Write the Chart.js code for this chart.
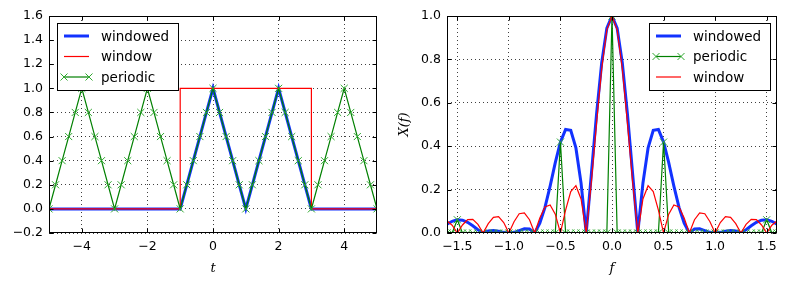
<!DOCTYPE html>
<html>
<head>
<meta charset="utf-8">
<script src="https://cdn.jsdelivr.net/npm/chart.js@4.4.0/dist/chart.umd.min.js"></script>
<style>
    html, body { margin: 0; padding: 0; background: #fff; }
    #khung { position: relative; width: 786px; height: 286px; }
    .o { position: absolute; top: 0; width: 393px; height: 286px; }
</style>
</head>
<body>
<div id="khung">
    <div class="o" style="left:0"><canvas id="bieuDoThoiGian" width="393" height="286"></canvas></div>
    <div class="o" style="left:393px"><canvas id="bieuDoTanSo" width="393" height="286"></canvas></div>
</div>
<script>
// ===== du lieu mien thoi gian =====
const thoiGian = [-5, -4.8, -4.6, -4.4, -4.2, -4, -3.8, -3.6, -3.4, -3.2, -3, -2.8, -2.6, -2.4, -2.2, -2, -1.8, -1.6, -1.4, -1.2,
    -1, -0.8, -0.6, -0.4, -0.2, 0, 0.2, 0.4, 0.6, 0.8, 1, 1.2, 1.4, 1.6, 1.8, 2, 2.2, 2.4, 2.6, 2.8,
    3, 3.2, 3.4, 3.6, 3.8, 4, 4.2, 4.4, 4.6, 4.8, 5];
const tuanHoan = [0, 0.2, 0.4, 0.6, 0.8, 1, 0.8, 0.6, 0.4, 0.2, 0, 0.2, 0.4, 0.6, 0.8, 1, 0.8, 0.6, 0.4, 0.2,
    0, 0.2, 0.4, 0.6, 0.8, 1, 0.8, 0.6, 0.4, 0.2, 0, 0.2, 0.4, 0.6, 0.8, 1, 0.8, 0.6, 0.4, 0.2,
    0, 0.2, 0.4, 0.6, 0.8, 1, 0.8, 0.6, 0.4, 0.2, 0];
const daCuaSo = [0, 0, 0, 0, 0, 0, 0, 0, 0, 0, 0, 0, 0, 0, 0, 0, 0, 0, 0, 0,
    0, 0.2, 0.4, 0.6, 0.8, 1, 0.8, 0.6, 0.4, 0.2, 0, 0.2, 0.4, 0.6, 0.8, 1, 0.8, 0.6, 0.4, 0.2,
    0, 0, 0, 0, 0, 0, 0, 0, 0, 0, 0];
const cuaSoT = [-5, -1, -1, 3, 3, 5];
const cuaSo = [0, 0, 1, 1, 0, 0];
const mocX1 = [-4, -2, 0, 2, 4];
const mocY1 = [-0.2, 0, 0.2, 0.4, 0.6, 0.8, 1.0, 1.2, 1.4, 1.6];

// ===== du lieu mien tan so =====
const tanSo = [-1.65, -1.6, -1.55, -1.5, -1.45, -1.4, -1.35, -1.3, -1.25, -1.2, -1.15, -1.1, -1.05, -1,
    -0.95, -0.9, -0.85, -0.8, -0.75, -0.7, -0.65, -0.6, -0.55, -0.5, -0.45, -0.4, -0.35, -0.3, -0.25, -0.2, -0.15, -0.1, -0.05,
    0, 0.05, 0.1, 0.15, 0.2, 0.25, 0.3, 0.35, 0.4, 0.45, 0.5, 0.55, 0.6, 0.65, 0.7, 0.75, 0.8, 0.85, 0.9, 0.95,
    1, 1.05, 1.1, 1.15, 1.2, 1.25, 1.3, 1.35, 1.4, 1.45, 1.5, 1.55, 1.6, 1.65];
const phoDaCuaSo = [0.025, 0.041, 0.054, 0.061, 0.059, 0.049, 0.033, 0.015, 0, 0.009, 0.011, 0.008, 0.003, 0,
    0.003, 0.011, 0.019, 0.018, 0, 0.045, 0.118, 0.216, 0.324, 0.419, 0.477, 0.473, 0.392, 0.230, 0, 0.272, 0.547, 0.784, 0.944,
    1, 0.944, 0.784, 0.547, 0.272, 0, 0.230, 0.392, 0.473, 0.477, 0.419, 0.324, 0.216, 0.118, 0.045, 0, 0.018, 0.019, 0.011, 0.003,
    0, 0.003, 0.008, 0.011, 0.009, 0, 0.015, 0.033, 0.049, 0.059, 0.061, 0.054, 0.041, 0.025];
const phoTuanHoan = [0, 0, 0, 0.061, 0, 0, 0, 0, 0, 0, 0, 0, 0, 0,
    0, 0, 0, 0, 0, 0, 0, 0, 0, 0.419, 0, 0, 0, 0, 0, 0, 0, 0, 0,
    1, 0, 0, 0, 0, 0, 0, 0, 0, 0, 0.419, 0, 0, 0, 0, 0, 0, 0, 0, 0,
    0, 0, 0, 0, 0, 0, 0, 0, 0, 0, 0.061, 0, 0, 0];
const phoCuaSo = [0.055, 0.056, 0.036, 0, 0.037, 0.062, 0.063, 0.040, 0, 0.043, 0.072, 0.075, 0.048, 0,
    0.052, 0.089, 0.093, 0.061, 0, 0.069, 0.120, 0.129, 0.087, 0, 0.105, 0.191, 0.218, 0.157, 0, 0.235, 0.505, 0.757, 0.936,
    1, 0.936, 0.757, 0.505, 0.235, 0, 0.157, 0.218, 0.191, 0.105, 0, 0.087, 0.129, 0.120, 0.069, 0, 0.061, 0.093, 0.089, 0.052,
    0, 0.048, 0.075, 0.072, 0.043, 0, 0.040, 0.063, 0.062, 0.037, 0, 0.036, 0.056, 0.055];
const mocX2 = [-1.5, -1.0, -0.5, 0, 0.5, 1.0, 1.5];
const mocY2 = [0, 0.2, 0.4, 0.6, 0.8, 1.0];

const XANH = "#1232ff";
const DO = "#ff0000";
const LUC = "#008000";
const DAU_X = "#2fa82f";

Chart.defaults.font.family = "'DejaVu Sans', sans-serif";
Chart.defaults.color = "#000";

function ghep(xs, ys) {
    return xs.map((x, i) => ({ x: x, y: ys[i] }));
}
function dauTru(s) {
    return s.replace("-", "\u2212");
}

// khung truc + vach chia huong vao trong
const khungTruc = {
    id: "khungTruc",
    afterDatasetsDraw(chart) {
        const { ctx, chartArea: a, scales } = chart;
        const L = Math.round(a.left) + 0.5, R = Math.round(a.right) - 0.5;
        const T = Math.round(a.top) + 0.5, B = Math.round(a.bottom) - 0.5;
        ctx.save();
        ctx.strokeStyle = "#000";
        ctx.lineWidth = 1;
        ctx.beginPath();
        scales.x.ticks.forEach((t) => {
            const p = Math.round(scales.x.getPixelForValue(t.value)) + 0.5;
            ctx.moveTo(p, B); ctx.lineTo(p, B - 4);
            ctx.moveTo(p, T); ctx.lineTo(p, T + 4);
        });
        scales.y.ticks.forEach((t) => {
            const p = Math.round(scales.y.getPixelForValue(t.value)) + 0.5;
            ctx.moveTo(L, p); ctx.lineTo(L + 4, p);
            ctx.moveTo(R, p); ctx.lineTo(R - 4, p);
        });
        ctx.stroke();
        ctx.strokeRect(L, T, R - L, B - T);
        ctx.restore();
    },
};

// chu giai ve ben trong vung ve
const chuGiai = {
    id: "chuGiai",
    afterDraw(chart, args, opts) {
        const { ctx, chartArea: a } = chart;
        const ds = chart.data.datasets;
        ctx.save();
        ctx.font = "13.5px 'DejaVu Sans'";
        const tw = Math.max(...ds.map((d) => ctx.measureText(d.label).width));
        const w = Math.round(7 + 25 + 12 + tw + 9);
        const h = 67;
        const left = opts.side === "left" ? Math.round(a.left) + 8 : Math.round(a.right) - 7 - w;
        const top = Math.round(a.top) + 7;
        ctx.fillStyle = "#fff";
        ctx.fillRect(left, top, w, h);
        ctx.strokeStyle = "#000";
        ctx.lineWidth = 1;
        ctx.strokeRect(left + 0.5, top + 0.5, w, h);
        ds.forEach((d, i) => {
            const cy = top + 13 + i * 20.5;
            const x0 = left + 7, x1 = x0 + 25;
            ctx.strokeStyle = d.borderColor;
            ctx.lineWidth = d.borderWidth;
            ctx.beginPath();
            ctx.moveTo(x0, cy); ctx.lineTo(x1, cy);
            ctx.stroke();
            if (d.pointRadius > 0) {
                const r = 3.5;
                ctx.strokeStyle = d.pointBorderColor;
                ctx.lineWidth = d.pointBorderWidth;
                ctx.beginPath();
                [x0, x1].forEach((px) => {
                    ctx.moveTo(px - r, cy - r); ctx.lineTo(px + r, cy + r);
                    ctx.moveTo(px - r, cy + r); ctx.lineTo(px + r, cy - r);
                });
                ctx.stroke();
            }
            ctx.fillStyle = "#000";
            ctx.textBaseline = "middle";
            ctx.fillText(d.label, x1 + 12, cy + 1);
        });
        ctx.restore();
    },
};

function trucX(min, max, moc, fmt, nhan, caoTruc) {
    return {
        type: "linear", min: min, max: max,
        afterBuildTicks: (s) => { s.ticks = moc.map((v) => ({ value: v })); },
        afterFit: (s) => { s.height = caoTruc; },
        ticks: { font: { size: 12.5 }, padding: 6, maxRotation: 0, autoSkip: false, callback: fmt },
        grid: { color: "rgba(0,0,0,0.75)", lineWidth: 1, drawTicks: false },
        border: { display: false, dash: [1, 3] },
        title: {
            display: true, text: nhan,
            font: { family: "'DejaVu Serif'", style: "italic", size: 13 },
            padding: { top: 0, bottom: 10 },
        },
    };
}
function trucY(min, max, moc, rongTruc, nhan) {
    return {
        type: "linear", min: min, max: max,
        afterBuildTicks: (s) => { s.ticks = moc.map((v) => ({ value: v })); },
        afterFit: (s) => { s.width = rongTruc; },
        ticks: { font: { size: 12.5 }, padding: 6, autoSkip: false, callback: (v) => dauTru(v.toFixed(1)) },
        grid: { color: "rgba(0,0,0,0.75)", lineWidth: 1, drawTicks: false },
        border: { display: false, dash: [1, 3] },
        title: {
            display: !!nhan, text: nhan || "",
            font: { family: "'DejaVu Serif'", style: "italic", size: 13 },
            padding: { top: 4, bottom: 0 },
        },
    };
}

const chung = {
    responsive: false,
    animation: false,
    devicePixelRatio: 1,
    elements: { line: { tension: 0 } },
};

// bieu do ben trai: mien thoi gian
new Chart(document.getElementById("bieuDoThoiGian"), {
    type: "line",
    data: {
        datasets: [
            { label: "windowed", data: ghep(thoiGian, daCuaSo), borderColor: XANH, borderWidth: 3, pointRadius: 0, order: 3 },
            { label: "window", data: ghep(cuaSoT, cuaSo), borderColor: DO, borderWidth: 1.2, pointRadius: 0, order: 2 },
            {
                label: "periodic", data: ghep(thoiGian, tuanHoan), borderColor: LUC, borderWidth: 1.2,
                pointStyle: "crossRot", pointRadius: 5, pointBorderColor: DAU_X, pointBorderWidth: 1,
                pointBackgroundColor: "rgba(0,0,0,0)", order: 1,
            },
        ],
    },
    options: Object.assign({}, chung, {
        layout: { padding: { top: 16, right: 16, left: 0, bottom: 0 } },
        scales: {
            x: trucX(-5, 5, mocX1, (v) => dauTru(String(v)), "t", 53),
            y: trucY(-0.2, 1.6, mocY1, 49, null),
        },
        plugins: { legend: { display: false }, tooltip: { enabled: false }, chuGiai: { side: "left" } },
    }),
    plugins: [khungTruc, chuGiai],
});

// bieu do ben phai: pho tan so
new Chart(document.getElementById("bieuDoTanSo"), {
    type: "line",
    data: {
        datasets: [
            { label: "windowed", data: ghep(tanSo, phoDaCuaSo), borderColor: XANH, borderWidth: 3, pointRadius: 0, order: 3 },
            {
                label: "periodic", data: ghep(tanSo, phoTuanHoan), borderColor: LUC, borderWidth: 1.2,
                pointStyle: "crossRot", pointRadius: 5, pointBorderColor: DAU_X, pointBorderWidth: 1,
                pointBackgroundColor: "rgba(0,0,0,0)", order: 2,
            },
            { label: "window", data: ghep(tanSo, phoCuaSo), borderColor: DO, borderWidth: 1.2, pointRadius: 0, order: 1 },
        ],
    },
    options: Object.assign({}, chung, {
        layout: { padding: { top: 16, right: 9, left: 0, bottom: 0 } },
        scales: {
            x: trucX(-1.6, 1.6, mocX2, (v) => dauTru(v.toFixed(1)), "f", 53),
            y: trucY(0, 1, mocY2, 54, "X(f)"),
        },
        plugins: { legend: { display: false }, tooltip: { enabled: false }, chuGiai: { side: "right" } },
    }),
    plugins: [khungTruc, chuGiai],
});
</script>
</body>
</html>
